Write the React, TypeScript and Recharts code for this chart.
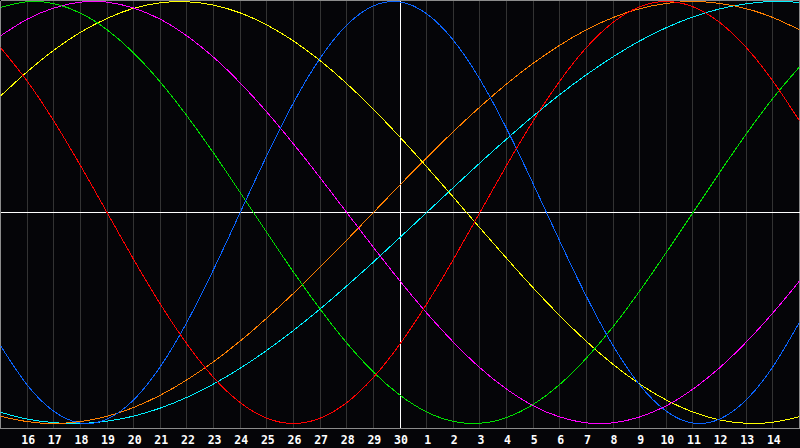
import React from "react";
import { LineChart, Line, XAxis, YAxis, CartesianGrid, ReferenceLine } from "recharts";

// Day index 0..30 across the chart (15th of one month to 15th of the next)
const dayLabels = [
  "15", "16", "17", "18", "19", "20", "21", "22", "23", "24", "25", "26", "27", "28", "29", "30",
  "1", "2", "3", "4", "5", "6", "7", "8", "9", "10", "11", "12", "13", "14", "15",
];
const tickIndexes = [1, 2, 3, 4, 5, 6, 7, 8, 9, 10, 11, 12, 13, 14, 15, 16, 17, 18, 19, 20, 21, 22, 23, 24, 25, 26, 27, 28, 29];

// Series values, one per day index
const redValues = [0.782, 0.623, 0.434, 0.223, 0, -0.223, -0.434, -0.623, -0.782, -0.901, -0.975, -1, -0.975, -0.901, -0.782, -0.623, -0.434, -0.223, 0, 0.223, 0.434, 0.623, 0.782, 0.901, 0.975, 1, 0.975, 0.901, 0.782, 0.623, 0.434];
const blueValues = [-0.631, -0.817, -0.942, -0.998, -0.979, -0.888, -0.731, -0.52, -0.27, 0, 0.27, 0.52, 0.731, 0.888, 0.979, 0.998, 0.942, 0.817, 0.631, 0.398, 0.136, -0.136, -0.398, -0.631, -0.817, -0.942, -0.998, -0.979, -0.888, -0.731, -0.52];
const greenValues = [0.972, 0.999, 0.99, 0.945, 0.866, 0.756, 0.618, 0.458, 0.282, 0.095, -0.095, -0.282, -0.458, -0.618, -0.756, -0.866, -0.945, -0.99, -0.999, -0.972, -0.91, -0.815, -0.69, -0.541, -0.372, -0.189, 0, 0.189, 0.372, 0.541, 0.69];
const magentaValues = [0.837, 0.916, 0.969, 0.997, 0.997, 0.969, 0.916, 0.837, 0.736, 0.614, 0.476, 0.325, 0.165, 0, -0.165, -0.325, -0.476, -0.614, -0.736, -0.837, -0.916, -0.969, -0.997, -0.997, -0.969, -0.916, -0.837, -0.736, -0.614, -0.476, -0.325];
const yellowValues = [0.552, 0.667, 0.769, 0.854, 0.92, 0.968, 0.994, 0.999, 0.983, 0.946, 0.889, 0.813, 0.72, 0.611, 0.489, 0.357, 0.217, 0.073, -0.073, -0.217, -0.357, -0.489, -0.611, -0.72, -0.813, -0.889, -0.946, -0.983, -0.999, -0.994, -0.968];
const orangeValues = [-0.966, -0.991, -1, -0.991, -0.966, -0.924, -0.866, -0.793, -0.707, -0.609, -0.5, -0.383, -0.259, -0.131, 0, 0.131, 0.259, 0.383, 0.5, 0.609, 0.707, 0.793, 0.866, 0.924, 0.966, 0.991, 1, 0.991, 0.966, 0.924, 0.866];
const cyanValues = [-0.947, -0.979, -0.996, -1, -0.989, -0.965, -0.927, -0.876, -0.813, -0.738, -0.653, -0.559, -0.457, -0.348, -0.235, -0.118, 0, 0.118, 0.235, 0.348, 0.457, 0.559, 0.653, 0.738, 0.813, 0.876, 0.927, 0.965, 0.989, 1, 0.996];

const series = [
  { key: "cyan", values: cyanValues, color: "#00f0ff" },
  { key: "orange", values: orangeValues, color: "#ff8000" },
  { key: "yellow", values: yellowValues, color: "#ffff00" },
  { key: "magenta", values: magentaValues, color: "#ff00ff" },
  { key: "green", values: greenValues, color: "#00e000" },
  { key: "blue", values: blueValues, color: "#0a64ff" },
  { key: "red", values: redValues, color: "#ff0000" },
];

const data = dayLabels.map((label, i) => {
  const row: Record<string, number | string> = { i, label };
  series.forEach((s) => {
    row[s.key] = s.values[i];
  });
  return row;
});

const Y_MAX = 1.00474;
const Y_MIN = -1.0237;

const Tick = (props: any) => {
  const { x, payload } = props;
  return (
    <text
      x={x + 1}
      y={443.5}
      textAnchor="middle"
      fill="#ffffff"
      fontFamily="'DejaVu Sans Mono', monospace"
      fontWeight="bold"
      fontSize={11.5}
    >
      {dayLabels[payload.value]}
    </text>
  );
};

export default function App() {
  return (
    <div style={{ position: "absolute", left: 0, top: 0, width: 800, height: 448, background: "#050508" }}>
      <style>{`body{margin:0;background:#050508;}`}</style>
      <LineChart
        width={800}
        height={448}
        data={data}
        margin={{ top: 0.5, right: 0.5, bottom: 0, left: 0.5 }}
      >
        <CartesianGrid
          horizontal={false}
          vertical={true}
          stroke="#333333"
          strokeWidth={1}
          shapeRendering="crispEdges"
        />
        <XAxis
          dataKey="i"
          type="number"
          domain={[0, 30]}
          ticks={tickIndexes}
          interval={0}
          height={19.5}
          axisLine={{ stroke: "#8c8c8c", shapeRendering: "crispEdges" }}
          tickLine={false}
          tick={<Tick />}
          allowDataOverflow
        />
        <YAxis hide domain={[Y_MIN, Y_MAX]} allowDataOverflow />
        <ReferenceLine x={0} stroke="#8c8c8c" shapeRendering="crispEdges" ifOverflow="visible" />
        <ReferenceLine x={30} stroke="#8c8c8c" shapeRendering="crispEdges" ifOverflow="visible" />
        <ReferenceLine y={Y_MAX} stroke="#8c8c8c" shapeRendering="crispEdges" ifOverflow="visible" />
        <ReferenceLine x={15} stroke="#ffffff" shapeRendering="crispEdges" />
        <ReferenceLine y={0} stroke="#ffffff" shapeRendering="crispEdges" />
        {series.map((s) => (
          <Line
            key={s.key}
            dataKey={s.key}
            type="natural"
            stroke={s.color}
            strokeWidth={1}
            dot={false}
            activeDot={false}
            isAnimationActive={false}
            shapeRendering="crispEdges"
          />
        ))}
      </LineChart>
    </div>
  );
}
